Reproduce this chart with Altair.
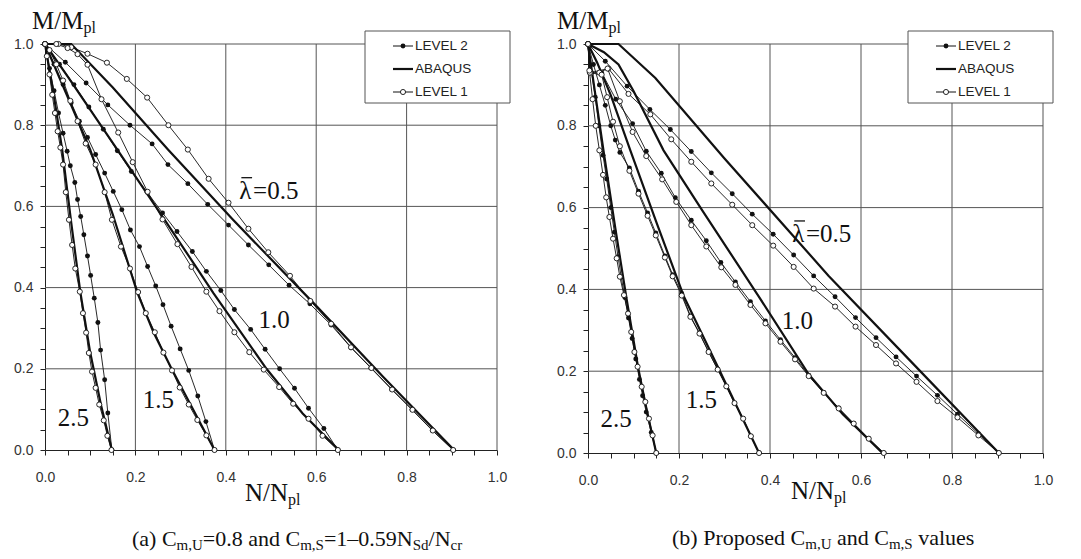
import altair as alt
import pandas as pd

# ================= Panel (a): Cm,U = 0.8, Cm,S = 1-0.59 NSd/Ncr =================
# ABAQUS
a_ab_05_n = [0, 0.058, 0.15, 0.272, 0.416, 0.6, 0.75, 0.905]
a_ab_05_m = [1, 1.0, 0.893, 0.74, 0.567, 0.355, 0.178, 0]
a_ab_10_n = [0, 0.05, 0.16, 0.26, 0.373, 0.49, 0.57, 0.65]
a_ab_10_m = [1, 0.92, 0.74, 0.575, 0.386, 0.2, 0.09, 0]
a_ab_15_n = [0, 0.05, 0.1, 0.15, 0.204, 0.24, 0.28, 0.33, 0.375]
a_ab_15_m = [1, 0.87, 0.74, 0.58, 0.388, 0.29, 0.2, 0.095, 0]
a_ab_25_n = [0, 0.02, 0.038, 0.058, 0.078, 0.1, 0.124, 0.148]
a_ab_25_m = [1, 0.87, 0.74, 0.56, 0.39, 0.24, 0.11, 0]
# LEVEL 2
a_l2_05_n = [0, 0.045, 0.091, 0.139, 0.188, 0.237, 0.272, 0.316, 0.36, 0.406, 0.45, 0.495, 0.54, 0.586, 0.633, 0.677, 0.721, 0.767, 0.812, 0.857, 0.903]
a_l2_05_m = [1, 0.955, 0.904, 0.85, 0.80, 0.754, 0.703, 0.656, 0.605, 0.554, 0.505, 0.456, 0.406, 0.36, 0.308, 0.252, 0.202, 0.149, 0.099, 0.048, 0]
a_l2_10_n = [0, 0.032, 0.064, 0.097, 0.129, 0.16, 0.191, 0.226, 0.26, 0.292, 0.326, 0.357, 0.389, 0.419, 0.455, 0.487, 0.519, 0.552, 0.583, 0.617, 0.648]
a_l2_10_m = [1, 0.95, 0.9, 0.845, 0.79, 0.737, 0.686, 0.635, 0.584, 0.538, 0.489, 0.44, 0.393, 0.346, 0.297, 0.248, 0.2, 0.152, 0.103, 0.053, 0]
a_l2_15_n = [0, 0.02, 0.04, 0.058, 0.076, 0.094, 0.112, 0.132, 0.151, 0.17, 0.189, 0.209, 0.227, 0.245, 0.261, 0.279, 0.299, 0.318, 0.338, 0.356, 0.375]
a_l2_15_m = [1, 0.95, 0.9, 0.855, 0.81, 0.77, 0.728, 0.682, 0.637, 0.592, 0.542, 0.501, 0.452, 0.404, 0.358, 0.305, 0.249, 0.196, 0.133, 0.07, 0]
a_l2_25_n = [0, 0.01, 0.02, 0.03, 0.04, 0.049, 0.056, 0.066, 0.072, 0.079, 0.086, 0.094, 0.101, 0.109, 0.117, 0.123, 0.132, 0.139, 0.148]
a_l2_25_m = [1, 0.94, 0.885, 0.83, 0.78, 0.736, 0.70, 0.659, 0.617, 0.575, 0.53, 0.478, 0.43, 0.374, 0.314, 0.246, 0.173, 0.091, 0]
# LEVEL 1
a_l1_05_n = [0, 0.03, 0.058, 0.094, 0.137, 0.181, 0.226, 0.273, 0.316, 0.362, 0.406, 0.45, 0.494, 0.542, 0.587, 0.633, 0.677, 0.722, 0.768, 0.813, 0.858, 0.903]
a_l1_05_m = [1, 1, 0.992, 0.976, 0.954, 0.914, 0.868, 0.80, 0.74, 0.668, 0.609, 0.545, 0.487, 0.429, 0.367, 0.311, 0.253, 0.202, 0.149, 0.099, 0.048, 0]
a_l1_10_n = [0, 0.025, 0.05, 0.072, 0.094, 0.125, 0.162, 0.194, 0.227, 0.26, 0.293, 0.324, 0.357, 0.386, 0.419, 0.452, 0.484, 0.518, 0.549, 0.583, 0.614, 0.648]
a_l1_10_m = [1, 1, 0.99, 0.975, 0.949, 0.864, 0.782, 0.709, 0.636, 0.568, 0.507, 0.451, 0.39, 0.342, 0.29, 0.241, 0.198, 0.155, 0.114, 0.077, 0.035, 0]
a_l1_15_n = [0, 0.01, 0.025, 0.04, 0.056, 0.072, 0.09, 0.112, 0.132, 0.148, 0.168, 0.188, 0.206, 0.223, 0.243, 0.262, 0.281, 0.298, 0.318, 0.337, 0.357, 0.375]
a_l1_15_m = [1, 0.985, 0.95, 0.91, 0.86, 0.81, 0.755, 0.703, 0.635, 0.567, 0.501, 0.447, 0.389, 0.337, 0.29, 0.24, 0.196, 0.154, 0.112, 0.074, 0.036, 0]
a_l1_25_n = [0, 0.004, 0.01, 0.016, 0.022, 0.028, 0.034, 0.04, 0.046, 0.053, 0.06, 0.067, 0.077, 0.084, 0.091, 0.097, 0.104, 0.112, 0.12, 0.13, 0.138, 0.147]
a_l1_25_m = [1, 0.97, 0.925, 0.875, 0.83, 0.785, 0.745, 0.703, 0.635, 0.567, 0.505, 0.447, 0.39, 0.337, 0.289, 0.239, 0.193, 0.153, 0.112, 0.073, 0.035, 0]

# ================= Panel (b): proposed Cm,U and Cm,S =================
# ABAQUS
b_ab_05_n = [0, 0.067, 0.148, 0.3, 0.529, 0.7, 0.903]
b_ab_05_m = [1, 1.0, 0.917, 0.72, 0.433, 0.235, 0]
b_ab_10_n = [0, 0.035, 0.067, 0.1, 0.166, 0.25, 0.374, 0.484, 0.56, 0.647]
b_ab_10_m = [1, 0.98, 0.95, 0.885, 0.74, 0.595, 0.385, 0.194, 0.095, 0]
b_ab_15_n = [0, 0.02, 0.05, 0.093, 0.15, 0.211, 0.29, 0.376]
b_ab_15_m = [1, 0.955, 0.875, 0.74, 0.565, 0.382, 0.2, 0]
b_ab_25_n = [0, 0.015, 0.034, 0.06, 0.084, 0.11, 0.13, 0.15]
b_ab_25_m = [1, 0.885, 0.74, 0.55, 0.382, 0.21, 0.1, 0]
# LEVEL 2
b_l2_05_n = [0, 0.038, 0.086, 0.136, 0.181, 0.227, 0.271, 0.317, 0.361, 0.407, 0.452, 0.496, 0.543, 0.588, 0.633, 0.677, 0.722, 0.768, 0.812, 0.858, 0.903]
b_l2_05_m = [1, 0.958, 0.897, 0.84, 0.791, 0.737, 0.685, 0.634, 0.584, 0.535, 0.484, 0.433, 0.382, 0.331, 0.282, 0.235, 0.188, 0.141, 0.095, 0.047, 0]
b_l2_10_n = [0, 0.03, 0.061, 0.098, 0.128, 0.161, 0.192, 0.227, 0.26, 0.292, 0.324, 0.357, 0.39, 0.423, 0.455, 0.485, 0.518, 0.551, 0.584, 0.617, 0.65]
b_l2_10_m = [1, 0.93, 0.865, 0.805, 0.738, 0.684, 0.624, 0.569, 0.519, 0.466, 0.418, 0.37, 0.323, 0.277, 0.233, 0.19, 0.148, 0.11, 0.072, 0.035, 0]
b_l2_15_n = [0, 0.012, 0.025, 0.038, 0.05, 0.06, 0.07, 0.091, 0.111, 0.131, 0.149, 0.169, 0.186, 0.206, 0.225, 0.245, 0.265, 0.285, 0.304, 0.322, 0.341, 0.358, 0.376]
b_l2_15_m = [1, 0.95, 0.9, 0.85, 0.8, 0.765, 0.735, 0.697, 0.64, 0.587, 0.538, 0.482, 0.436, 0.39, 0.335, 0.293, 0.248, 0.205, 0.163, 0.122, 0.084, 0.041, 0]
b_l2_25_n = [0, 0.008, 0.016, 0.024, 0.033, 0.041, 0.05, 0.058, 0.066, 0.073, 0.081, 0.089, 0.097, 0.105, 0.113, 0.12, 0.128, 0.139, 0.15]
b_l2_25_m = [1, 0.93, 0.87, 0.8, 0.728, 0.67, 0.6, 0.54, 0.48, 0.43, 0.38, 0.33, 0.28, 0.23, 0.18, 0.14, 0.1, 0.05, 0]
# LEVEL 1
b_l1_05_n = [0, 0.005, 0.045, 0.089, 0.137, 0.183, 0.227, 0.271, 0.317, 0.361, 0.407, 0.452, 0.496, 0.543, 0.588, 0.633, 0.677, 0.722, 0.768, 0.812, 0.858, 0.903]
b_l1_05_m = [1, 0.93, 0.94, 0.878, 0.828, 0.767, 0.712, 0.659, 0.607, 0.557, 0.507, 0.455, 0.402, 0.358, 0.309, 0.264, 0.219, 0.174, 0.127, 0.087, 0.043, 0]
b_l1_10_n = [0, 0.005, 0.025, 0.043, 0.07, 0.098, 0.128, 0.163, 0.194, 0.227, 0.26, 0.293, 0.324, 0.357, 0.39, 0.423, 0.455, 0.485, 0.518, 0.551, 0.584, 0.617, 0.65]
b_l1_10_m = [1, 0.93, 0.93, 0.94, 0.86, 0.785, 0.726, 0.669, 0.614, 0.557, 0.505, 0.454, 0.411, 0.362, 0.317, 0.272, 0.229, 0.188, 0.147, 0.109, 0.072, 0.035, 0]
b_l1_15_n = [0, 0.004, 0.03, 0.042, 0.055, 0.07, 0.091, 0.111, 0.131, 0.149, 0.169, 0.186, 0.206, 0.225, 0.245, 0.265, 0.285, 0.304, 0.322, 0.341, 0.358, 0.376]
b_l1_15_m = [1, 0.93, 0.925, 0.87, 0.81, 0.75, 0.69, 0.634, 0.58, 0.532, 0.478, 0.432, 0.385, 0.333, 0.292, 0.247, 0.204, 0.163, 0.122, 0.084, 0.041, 0]
b_l1_25_n = [0, 0.003, 0.01, 0.017, 0.025, 0.033, 0.04, 0.047, 0.055, 0.063, 0.07, 0.079, 0.088, 0.095, 0.102, 0.109, 0.118, 0.126, 0.134, 0.142, 0.15]
b_l1_25_m = [1, 0.935, 0.865, 0.8, 0.74, 0.68, 0.625, 0.577, 0.524, 0.476, 0.431, 0.386, 0.341, 0.296, 0.247, 0.211, 0.162, 0.125, 0.084, 0.043, 0]

# slenderness labels: (text, N, M, align, with lambda-bar prefix)
a_lam_labels = [("=0.5", 0.43, 0.619, "left", True), ("1.0", 0.507, 0.301, "center", False),
                ("1.5", 0.251, 0.103, "center", False), ("2.5", 0.063, 0.058, "center", False)]
b_lam_labels = [("=0.5", 0.449, 0.516, "left", True), ("1.0", 0.46, 0.304, "center", False),
                ("1.5", 0.249, 0.109, "center", False), ("2.5", 0.062, 0.064, "center", False)]

grid_vals = [0.2, 0.4, 0.6, 0.8, 1.0]
tick_vals = [round(i * 0.05, 2) for i in range(21)]

series = {
    "a": {
        "ABAQUS": {"0.5": (a_ab_05_n, a_ab_05_m), "1.0": (a_ab_10_n, a_ab_10_m), "1.5": (a_ab_15_n, a_ab_15_m), "2.5": (a_ab_25_n, a_ab_25_m)},
        "LEVEL 2": {"0.5": (a_l2_05_n, a_l2_05_m), "1.0": (a_l2_10_n, a_l2_10_m), "1.5": (a_l2_15_n, a_l2_15_m), "2.5": (a_l2_25_n, a_l2_25_m)},
        "LEVEL 1": {"0.5": (a_l1_05_n, a_l1_05_m), "1.0": (a_l1_10_n, a_l1_10_m), "1.5": (a_l1_15_n, a_l1_15_m), "2.5": (a_l1_25_n, a_l1_25_m)},
    },
    "b": {
        "ABAQUS": {"0.5": (b_ab_05_n, b_ab_05_m), "1.0": (b_ab_10_n, b_ab_10_m), "1.5": (b_ab_15_n, b_ab_15_m), "2.5": (b_ab_25_n, b_ab_25_m)},
        "LEVEL 2": {"0.5": (b_l2_05_n, b_l2_05_m), "1.0": (b_l2_10_n, b_l2_10_m), "1.5": (b_l2_15_n, b_l2_15_m), "2.5": (b_l2_25_n, b_l2_25_m)},
        "LEVEL 1": {"0.5": (b_l1_05_n, b_l1_05_m), "1.0": (b_l1_10_n, b_l1_10_m), "1.5": (b_l1_15_n, b_l1_15_m), "2.5": (b_l1_25_n, b_l1_25_m)},
    },
}

rows = []
for p, sers in series.items():
    for s, lams in sers.items():
        for lam, (ns, ms) in lams.items():
            for i, (n, m) in enumerate(zip(ns, ms)):
                rows.append(dict(panel=p, series=s, lam=lam, key=f"{p}|{s}|{lam}", i=i, N=n, M=m))
df = pd.DataFrame(rows)

# ---- Times-like widths for placing subscripts ----
TW = {' ': 250, '(': 333, ')': 333, 'a': 444, 'b': 500, 'c': 444, 'd': 500, 'e': 444, 'l': 278,
      'm': 778, 'n': 500, 'o': 500, 'p': 500, 'r': 333, 's': 389, 'u': 500, 'v': 500,
      'C': 667, 'M': 889, 'N': 722, 'P': 556, 'S': 556, 'U': 722, '=': 564, '.': 250,
      ',': 250, '/': 278, '–': 500, 'λ': 549}


def tw(s, size):
    return sum(TW.get(c, 500) for c in s) * size / 1000.0


one = pd.DataFrame({"z": [0]})
INK = "#111111"
SERIF = "Liberation Serif"
SANS = "Liberation Sans"
LAM_SIZE = 25


def text_run(pieces, x, y, size, subsize, suboff):
    out = []
    cx = x
    for s, sub in pieces:
        fs = subsize if sub else size
        lead = len(s) - len(s.lstrip(" "))
        shown = s.strip(" ")
        out.append(alt.Chart(one).mark_text(text=shown, align="left", baseline="alphabetic", font=SERIF,
                                             fontSize=fs, color=INK)
                   .encode(x=alt.value(cx + tw(" " * lead, fs)), y=alt.value(y + (suboff if sub else 0))))
        cx += tw(s, fs)
    return out


def make_panel(p, W, H, lam_labels, ytitle_x, xtitle_x, xtitle_y, cap_x, cap_y, cap_pieces):
    d = df[df.panel == p]
    xs = alt.Scale(domain=[0, 1], nice=False, zero=False)
    ys = alt.Scale(domain=[0, 1], nice=False, zero=False)
    lab = "abs(datum.value*5 - round(datum.value*5)) < 0.001 ? format(datum.value, '.1f') : ''"
    common = dict(values=tick_vals, labelExpr=lab, grid=False, title=None, tickSize=5,
                  tickColor="#222", domainColor="#222", labelColor="#333", labelFont=SANS,
                  labelFontSize=14, labelOverlap=False, labelFlush=False)
    xax = alt.Axis(labelPadding=15, **common)
    yax = alt.Axis(labelPadding=7, **common)
    X = alt.X("N:Q", scale=xs, axis=xax)
    Y = alt.Y("M:Q", scale=ys, axis=yax)

    gdf = pd.DataFrame({"N": grid_vals, "M": grid_vals})
    layers = [
        alt.Chart(gdf).mark_rule(color="#555", strokeWidth=1).encode(x=X),
        alt.Chart(gdf).mark_rule(color="#555", strokeWidth=1).encode(y=Y),
    ]
    ab = d[d.series == "ABAQUS"]
    l2 = d[d.series == "LEVEL 2"]
    l1 = d[d.series == "LEVEL 1"]
    layers += [
        alt.Chart(ab).mark_line(color=INK, strokeWidth=2.2).encode(x=X, y=Y, detail="key:N", order="i:Q"),
        alt.Chart(l2).mark_line(color=INK, strokeWidth=0.9).encode(x=X, y=Y, detail="key:N", order="i:Q"),
        alt.Chart(l2).mark_point(filled=True, color=INK, size=24, opacity=1).encode(x=X, y=Y),
        alt.Chart(l1).mark_line(color=INK, strokeWidth=0.9).encode(x=X, y=Y, detail="key:N", order="i:Q"),
        alt.Chart(l1).mark_point(filled=True, fill="white", stroke=INK, strokeWidth=0.9, size=26, opacity=1).encode(x=X, y=Y),
    ]
    lw = tw("λ", LAM_SIZE)
    for txt, n, m, al, bar in lam_labels:
        t = pd.DataFrame({"N": [n], "M": [m]})
        if bar:
            layers.append(alt.Chart(t).mark_text(text="λ", align="left", baseline="alphabetic", font=SERIF,
                                                 fontSize=LAM_SIZE, color=INK).encode(x=X, y=Y))
            # bar over lambda, drawn as a short rule just above the glyph
            bar_df = pd.DataFrame({"N": [n + 2.0 / W], "N2": [n + (lw - 1.0) / W], "M": [m + 21.0 / H]})
            layers.append(alt.Chart(bar_df).mark_rule(color=INK, strokeWidth=1.3)
                          .encode(x=X, x2="N2:Q", y=Y))
            layers.append(alt.Chart(t).mark_text(text=txt, align="left", baseline="alphabetic", font=SERIF,
                                                 fontSize=LAM_SIZE, color=INK, dx=lw).encode(x=X, y=Y))
        else:
            layers.append(alt.Chart(t).mark_text(text=txt, align=al, baseline="alphabetic", font=SERIF,
                                                 fontSize=LAM_SIZE, color=INK).encode(x=X, y=Y))
    # legend box
    layers.append(alt.Chart(one).mark_rect(fill="white", stroke="#555", strokeWidth=1)
                  .encode(x=alt.value(320), x2=alt.value(465), y=alt.value(-13), y2=alt.value(59)))
    for ry, name, kind in [(2, "LEVEL 2", "filled"), (25, "ABAQUS", "thick"), (48, "LEVEL 1", "open")]:
        layers.append(alt.Chart(one).mark_rule(color=INK, strokeWidth=2.2 if kind == "thick" else 1)
                      .encode(x=alt.value(348), x2=alt.value(368), y=alt.value(ry)))
        if kind == "filled":
            layers.append(alt.Chart(one).mark_point(filled=True, color=INK, size=24, opacity=1)
                          .encode(x=alt.value(358), y=alt.value(ry)))
        if kind == "open":
            layers.append(alt.Chart(one).mark_point(filled=True, fill="white", stroke=INK, strokeWidth=0.9,
                                                    size=26, opacity=1)
                          .encode(x=alt.value(358), y=alt.value(ry)))
        layers.append(alt.Chart(one).mark_text(text=name, align="left", baseline="middle", font=SANS,
                                               fontSize=13.5, color="#222")
                      .encode(x=alt.value(370), y=alt.value(ry)))
    # axis titles and caption
    layers += text_run([("M/M", False), ("pl", True)], ytitle_x, -15, 25, 16, 4)
    layers += text_run([("N/N", False), ("pl", True)], xtitle_x, xtitle_y, 25, 16, 4)
    layers += text_run(cap_pieces, cap_x, cap_y, 22, 15, 4)
    return alt.layer(*layers).properties(width=W, height=H)


cap_a = [("(a) C", False), ("m,U", True), ("=0.8 and C", False), ("m,S", True),
         ("=1–0.59N", False), ("Sd", True), ("/N", False), ("cr", True)]
cap_b = [("(b) Proposed C", False), ("m,U", True), (" and C", False), ("m,S", True), (" values", False)]

pa = make_panel("a", 452, 406, a_lam_labels, -13, 200, 457, 87, 502, cap_a)
pb = make_panel("b", 455, 409, b_lam_labels, -31, 203, 455, 84, 501, cap_b)

chart = (alt.hconcat(pa, pb, spacing=91, bounds="flush")
         .properties(padding={"left": 5, "top": 1, "right": 5, "bottom": 0}, background="white")
         .configure_view(stroke=None))

chart.save("out.html", embed_options={"renderer": "svg", "actions": False})
